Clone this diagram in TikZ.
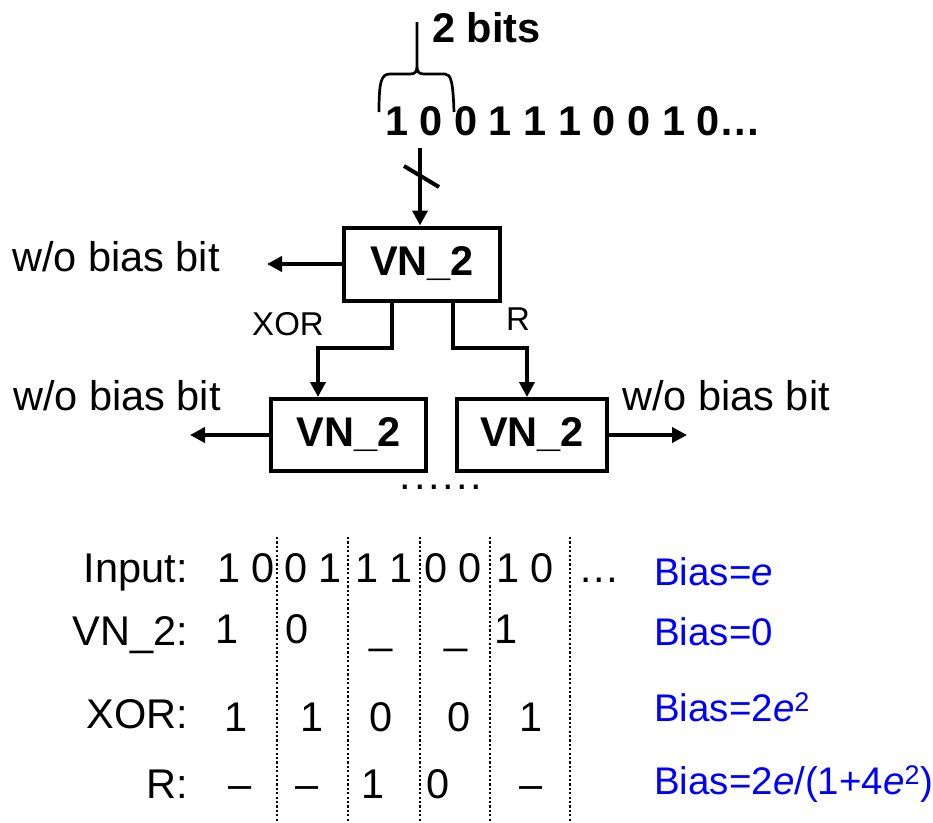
\documentclass[tikz,border=0pt]{standalone}
\usepackage{fontspec}
\setmainfont{Liberation Sans}
\usetikzlibrary{arrows.meta}
\begin{document}
\begin{tikzpicture}[x=1pt,y=-1pt,
  txt/.style={inner sep=0pt,font=\fontsize{41.5}{48}\selectfont},
  btxt/.style={inner sep=0pt,font=\fontsize{41.5}{48}\selectfont\bfseries},
  small/.style={inner sep=0pt,font=\fontsize{33}{40}\selectfont},
  bias/.style={inner sep=0pt,anchor=base west,text=blue,font=\fontsize{38.5}{46}\selectfont},
  lab/.style={txt,anchor=base east},
  vnbox/.style={draw,line width=4pt,inner sep=0pt,minimum width=156pt,minimum height=73pt,
    font=\fontsize{41.5}{48}\selectfont\bfseries},
  arr/.style={line width=4pt,-{Triangle[length=15pt,width=15pt]}},
  sep/.style={line width=2.2pt,dash pattern=on 2.2pt off 2.2pt}]
\useasboundingbox (0,0) rectangle (933,822);

% bit stream and 2-bit brace
\node[btxt,anchor=base west] (twobits) at (432,42) {2 bits};
\node[btxt,anchor=base west] (stream) at (385,135) {1 0 0 1 1 1 0 0 1 0\ldots};
\draw[line width=2.7pt]
  (379,112) .. controls (379,82) and (381,74) .. (390,74) -- (410,74)
  .. controls (415,74) and (417,72) .. (417,66) -- (417,22)
  (417,66) .. controls (417,72) and (419,74) .. (424,74) -- (445,74)
  .. controls (451,74) and (453,82) .. (454,112);

% VN_2 tree
\node[vnbox] (top) at (422,264) {VN\_2};
\node[vnbox,minimum width=155pt,minimum height=72pt] (bl) at (348.5,435) {VN\_2};
\node[vnbox,minimum width=150pt,minimum height=72pt] (br) at (532,435) {VN\_2};

\coordinate (src) at (420,148);
\draw[arr] (src) -- (src |- top.north);
\draw[line width=4pt] (404,166) -- (439,187);

\coordinate (outT) at (267,264);
\coordinate (outL) at (190,435);
\coordinate (outR) at (687,435);
\draw[arr] (top.west) -- (outT);
\draw[arr] (bl.west) -- (outL);
\draw[arr] (br.east) -- (outR);

\draw[arr] ([xshift=-30pt]top.south) -- ++(0,45) -| ([xshift=-30.5pt]bl.north);
\draw[arr] ([xshift=31pt]top.south) -- ++(0,45) -| ([xshift=-5pt]br.north);

\node[small,anchor=base] (xorlab) at (288,335) {XOR};
\node[small,anchor=base] (rlab) at (518,330) {R};

\node[txt,anchor=base west] (woT) at (12,271) {w/o bias bit};
\node[txt,anchor=base west] (woL) at (13,410) {w/o bias bit};
\node[txt,anchor=base west] (woR) at (622,410) {w/o bias bit};
\node[txt,anchor=base] (more) at (441,489)
  {.\kern2.6pt.\kern2.6pt.\kern2.6pt.\kern2.6pt.\kern2.6pt.};

% table of outputs
\foreach \xx in {277,348,420,490,570}
  \draw[sep] (\xx,537) -- (\xx,822);

\node[lab] (lin) at (188,582) {Input:};
\node[lab] (lvn) at (188,645) {VN\_2:};
\node[lab] (lxor) at (188,728) {XOR:};
\node[lab] (lr) at (188,798) {R:};

\node[txt,anchor=base west] (i1) at (217,582) {1 0};
\node[txt,anchor=base west] (i2) at (284,582) {0 1};
\node[txt,anchor=base west] (i3) at (355,582) {1 1};
\node[txt,anchor=base west] (i4) at (424,582) {0 0};
\node[txt,anchor=base west] (i5) at (496,582) {1 0};
\node[txt,anchor=base west] (i6) at (578,582) {\ldots};

\node[txt,anchor=base] (v1) at (227,643) {1};
\node[txt,anchor=base] (v2) at (297,643) {0};
\node[txt,anchor=base] (v3) at (381,643) {\_};
\node[txt,anchor=base] (v4) at (456,643) {\_};
\node[txt,anchor=base] (v5) at (506,643) {1};

\node[txt,anchor=base] (x1) at (236,731) {1};
\node[txt,anchor=base] (x2) at (312,731) {1};
\node[txt,anchor=base] (x3) at (381,731) {0};
\node[txt,anchor=base] (x4) at (459,731) {0};
\node[txt,anchor=base] (x5) at (531,731) {1};

\node[txt,anchor=base] (r1) at (240,798) {--};
\node[txt,anchor=base] (r2) at (307,798) {--};
\node[txt,anchor=base] (r3) at (373,798) {1};
\node[txt,anchor=base] (r4) at (438,798) {0};
\node[txt,anchor=base] (r5) at (531,798) {--};

\node[bias] (b1) at (654,585) {Bias=\textit{e}};
\node[bias] (b2) at (654,645) {Bias=0};
\node[bias] (b3) at (654,721) {Bias=2\textit{e}\textsuperscript{2}};
\node[bias] (b4) at (654,794) {Bias=2\textit{e}/(1+4\textit{e}\textsuperscript{2})};
\end{tikzpicture}
\end{document}
